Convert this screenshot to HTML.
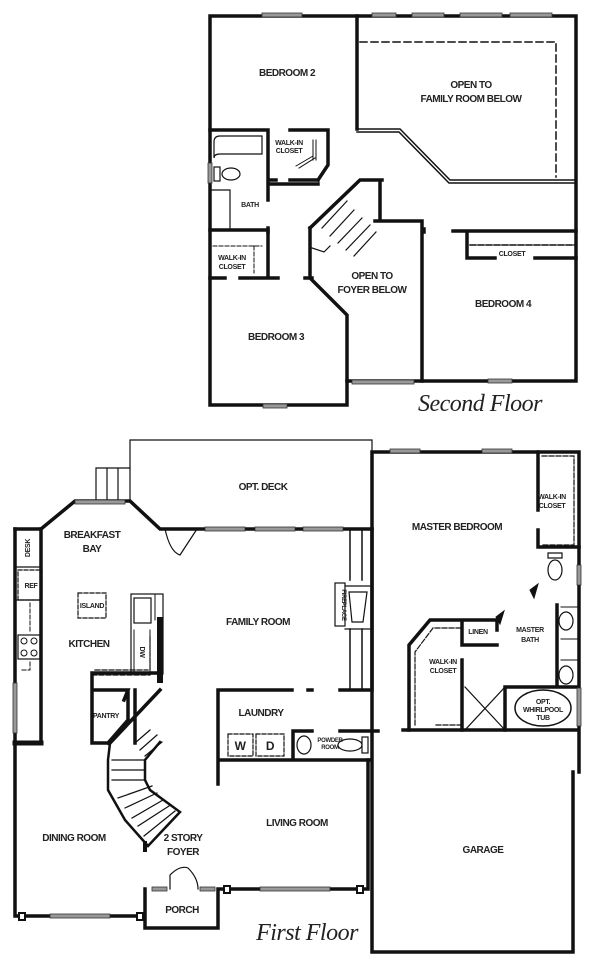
<!DOCTYPE html>
<html><head><style>
html,body{margin:0;padding:0;background:#fff;}
svg{display:block}
text{font-family:"Liberation Sans",sans-serif;font-size:10px;font-weight:bold;fill:#222;text-anchor:middle;letter-spacing:-0.5px}
.s{font-size:7px;letter-spacing:-0.3px}
.t{font-family:"Liberation Serif",serif;font-style:italic;font-weight:normal;font-size:24px;letter-spacing:-0.5px}
</style></head><body>
<svg width="600" height="965" viewBox="0 0 600 965" xmlns="http://www.w3.org/2000/svg">
<g fill="none" stroke="#111" stroke-linecap="square">
<g stroke-width="3.5">
<path d="M210,16 H576 V381 H347 V405 H210 Z"/>
<path d="M357,16 V129"/>
<path d="M210,130 H268 M290,130 H328 V165 L318,180 M268,130 V200 M268,184 H318 M268,228 V232 M270,180 H276 M290,180 H318"/>
<path d="M210,230 H268 V278 M210,278 H225 M240,278 H278"/>
<path d="M310,228 V278 M305,278 H312 M310,278 L347,315 V381"/>
<path d="M310,228 L360,180 H382 M380,180 V221 M375,221 H422 V381 M424,229 V232"/>
<path d="M453,231 H576 M467,231 V258 H495 M535,258 H576"/>
</g>
<path d="M357,129 H400 L450,180 H576 M357,132 H399 L449,183 H576" stroke-width="1.5"/>
<path d="M360,42 H556 V177" stroke-width="1.5" stroke-dasharray="7,4"/>
<path d="M470,245 H576" stroke-width="1.5" stroke-dasharray="6,2"/>
<path d="M214,148 V158 Q214,154 220,154 H262 V136 H220 Q214,136 214,142Z" stroke-width="1.2"/>
<ellipse cx="231" cy="174" rx="9" ry="6" stroke-width="1.2"/>
<rect x="214" y="167" width="6" height="14" stroke-width="1.2"/>
<path d="M230,190 V230 M210,190 H230" stroke-width="1.2"/>
<path d="M313,140 V160 M316,140 V160 M296,166 L313,156 M299,168 L315,158" stroke-width="1"/>
<path d="M213,246 H262 M254,246 V273" stroke-width="1" stroke-dasharray="4,2"/>
<path d="M322,228 L347,201 M330,236 L354,210 M338,243 L362,218 M346,250 L370,225 M354,256 L376,232 M312,248 L324,252 L330,246" stroke-width="1.2"/>
<path d="M130,468 V440 H372 V529" stroke-width="1.2"/>
<path d="M96,468 H130 V502 M96,468 V502 M107,468 V502 M118,468 V502" stroke-width="1.2"/>
<g stroke-width="3.5">
<path d="M15,529 V916 H145 M145,889 V928 H218 V889 M218,889 H368 V760"/>
<path d="M15,529 H41 L75,501 H130 L160,529 H372"/>
<path d="M372,529 V690 M340,690 H372"/>
<path d="M41,529 V743"/>
<path d="M218,690 H292 M308,690 H312 M218,690 V784 M218,760 H292 M293,731 V760 M293,731 H312 M340,731 H378 M292,760 H370"/>
<path d="M92,673 H160 M92,673 V743 H108 M92,690 H128 L124,700 M128,692 V720 L108,743 M135,690 V743 M160,690 L110,743"/>
<path d="M372,452 H579 V772 M573,772 V952 H372 V452 M403,730 H579"/>
<path d="M538,452 V510 M538,530 V547 H579"/>
<path d="M409,730 V645 L430,620 H462 V645 H497 M462,620 H497 V630"/>
<path d="M462,660 V730 M505,687 V730 M508,687 H577 M557,605 V687"/>
</g>
<path d="M41,743 H15" stroke-width="5"/>
<path d="M160,620 V680" stroke-width="6"/>
<rect x="131" y="594" width="32" height="80" stroke-width="1.2"/>
<rect x="134" y="598" width="17" height="25" stroke-width="1.2"/>
<path d="M155,594 V620 M134,630 V675 M150,630 V675" stroke-width="1"/>
<path d="M92,675 H150 V636 M95,670 H148" stroke-width="1.2" stroke-dasharray="5,2"/>
<rect x="18" y="570" width="24" height="30" stroke-width="1.2" stroke-dasharray="4,2"/>
<path d="M15,567 H41 M15,600 H41" stroke-width="1.2"/>
<rect x="18" y="635" width="22" height="24" stroke-width="1.2"/>
<circle cx="24" cy="641" r="3" stroke-width="1"/><circle cx="34" cy="641" r="3" stroke-width="1"/>
<circle cx="24" cy="653" r="3" stroke-width="1"/><circle cx="34" cy="653" r="3" stroke-width="1"/>
<path d="M30,603 V632 M30,662 V670 H20" stroke-width="1" stroke-dasharray="4,2"/>
<rect x="78" y="593" width="28" height="25" stroke-width="1.2" stroke-dasharray="4,2"/>
<path d="M110,743 L108,760 V790 L125,820 L148,846 L180,812 L150,790 L145,780 V760 L160,742" stroke-width="2.5"/>
<path d="M112,760 H145 M112,770 H145 M112,780 H145 M118,798 L152,786 M125,808 L157,793 M132,818 L163,800 M138,826 L169,806 M144,836 L175,811 M135,743 L150,730 M140,750 L157,735 M145,756 L162,742" stroke-width="1.2"/>
<path d="M145,843 V850" stroke-width="4"/>
<path d="M350,529 V580 M362,529 V580 M350,629 V690 M362,629 V690" stroke-width="1.5"/>
<path d="M372,690 V680" stroke-width="3"/>
<rect x="335" y="583" width="10" height="43" stroke-width="1.2"/>
<path d="M345,586 H372 V629 H345 M349,592 H367 L363,622 H352 Z" stroke-width="1.2"/>
<path d="M165,529 Q170,552 180,555 L197,529" stroke-width="1.2"/>
<path d="M170,889 V875 Q180,865 188,868 Q198,878 198,889" stroke-width="1.2"/>
<rect x="228" y="734" width="25" height="22" stroke-width="1.2" stroke-dasharray="4,2"/>
<rect x="256" y="734" width="28" height="22" stroke-width="1.2" stroke-dasharray="4,2"/>
<ellipse cx="304" cy="745" rx="7" ry="9" stroke-width="1.2"/>
<ellipse cx="350" cy="745" rx="12" ry="6" stroke-width="1.2"/>
<rect x="362" y="737" width="6" height="16" stroke-width="1.2"/>
<path d="M542,456 H574 V545 H542" stroke-width="1.2" stroke-dasharray="5,2"/>
<path d="M548,553 H562 V558 H548Z" stroke-width="1.2"/>
<ellipse cx="555" cy="570" rx="7" ry="10" stroke-width="1.2"/>
<path d="M415,725 V652 L433,628 H460 M436,725 H460" stroke-width="1.2" stroke-dasharray="5,2"/>
<ellipse cx="566" cy="621" rx="7" ry="9" stroke-width="1.2"/>
<ellipse cx="566" cy="675" rx="7" ry="9" stroke-width="1.2"/>
<path d="M561,607 H579 M561,639 H579 M561,660 H579" stroke-width="1"/>
<path d="M465,687 L505,730 M505,687 L465,730" stroke-width="1.2"/>
<ellipse cx="543" cy="708" rx="28" ry="18" stroke-width="1.5"/>
<path d="M530,590 L538,584 L534,598Z M496,617 L504,611 L500,624Z" fill="#111" stroke-width="1"/>
</g>
<g fill="#999" stroke="#333" stroke-width="0.8">
<rect x="262" y="13" width="40" height="4"/><rect x="372" y="13" width="24" height="4"/><rect x="412" y="13" width="32" height="4"/><rect x="460" y="13" width="42" height="4"/><rect x="510" y="13" width="42" height="4"/>
<rect x="208" y="163" width="4" height="20"/><rect x="352" y="380" width="62" height="4"/><rect x="488" y="379" width="24" height="4"/><rect x="263" y="404" width="24" height="4"/>
<rect x="75" y="500" width="50" height="4"/>
<rect x="205" y="527" width="40" height="4"/><rect x="255" y="527" width="40" height="4"/><rect x="303" y="527" width="40" height="4"/>
<rect x="390" y="449" width="30" height="4"/><rect x="482" y="449" width="30" height="4"/>
<rect x="13" y="683" width="4" height="50"/><rect x="577" y="565" width="4" height="20"/><rect x="577" y="688" width="4" height="38"/>
<rect x="50" y="914" width="60" height="4"/><rect x="152" y="887" width="15" height="4"/><rect x="200" y="887" width="15" height="4"/>
<rect x="260" y="887" width="70" height="4"/>
</g>
<g fill="#fff" stroke="#111" stroke-width="2">
<rect x="19" y="913" width="6" height="7"/><rect x="137" y="913" width="6" height="7"/><rect x="224" y="886" width="6" height="7"/><rect x="357" y="886" width="6" height="7"/>
</g>
<text x="287" y="76">BEDROOM 2</text>
<text x="471" y="88">OPEN TO</text><text x="471" y="102">FAMILY ROOM BELOW</text>
<text class="s" x="289" y="145">WALK-IN</text><text class="s" x="289" y="153">CLOSET</text>
<text class="s" x="250" y="207">BATH</text>
<text class="s" x="232" y="260">WALK-IN</text><text class="s" x="232" y="269">CLOSET</text>
<text x="372" y="279">OPEN TO</text><text x="372" y="293">FOYER BELOW</text>
<text class="s" x="512" y="256">CLOSET</text>
<text x="503" y="307">BEDROOM 4</text>
<text x="276" y="340">BEDROOM 3</text>
<text class="t" x="480" y="411">Second Floor</text>
<text x="263" y="490">OPT. DECK</text>
<text x="92" y="538">BREAKFAST</text><text x="92" y="552">BAY</text>
<text x="457" y="530">MASTER BEDROOM</text>
<text class="s" x="552" y="499">WALK-IN</text><text class="s" x="552" y="508">CLOSET</text>
<text class="s" x="31" y="588">REF</text>
<text class="s" x="92" y="608">ISLAND</text>
<text x="89" y="647">KITCHEN</text>
<text x="258" y="625">FAMILY ROOM</text>
<text class="s" x="478" y="634">LINEN</text>
<text class="s" x="530" y="632">MASTER</text><text class="s" x="530" y="642">BATH</text>
<text class="s" x="443" y="664">WALK-IN</text><text class="s" x="443" y="673">CLOSET</text>
<text class="s" x="543" y="704">OPT.</text><text class="s" x="543" y="712">WHIRLPOOL</text><text class="s" x="543" y="720">TUB</text>
<text class="s" x="106" y="718">PANTRY</text>
<text x="261" y="716">LAUNDRY</text>
<text x="240" y="750" style="font-size:12px">W</text><text x="270" y="750" style="font-size:12px">D</text>
<text class="s" x="330" y="742" style="font-size:6px">POWDER</text><text class="s" x="330" y="749" style="font-size:6px">ROOM</text>
<text x="297" y="826">LIVING ROOM</text>
<text x="74" y="841">DINING ROOM</text>
<text x="183" y="841">2 STORY</text><text x="183" y="855">FOYER</text>
<text x="483" y="853">GARAGE</text>
<text x="182" y="913">PORCH</text>
<text class="t" x="307" y="940">First Floor</text>
<text class="s" x="0" y="0" transform="translate(30,548) rotate(-90)">DESK</text>
<text class="s" x="0" y="0" transform="translate(342,605) rotate(90)" style="font-size:6px">FIREPLACE</text>
<text class="s" x="0" y="0" transform="translate(140,652) rotate(90)">DW</text>
</svg>
</body></html>
